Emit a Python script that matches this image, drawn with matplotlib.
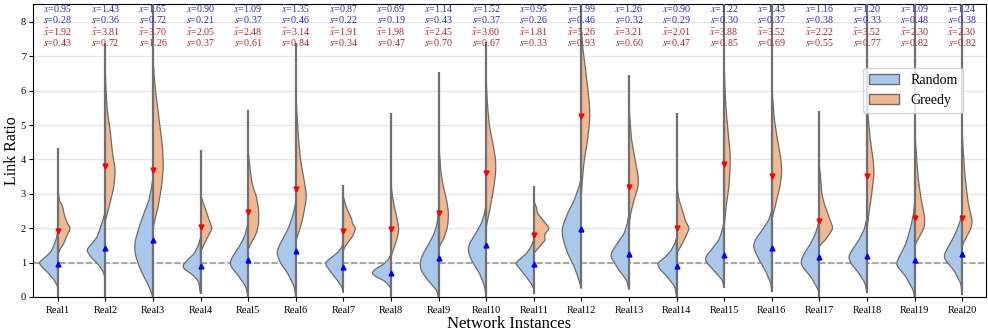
import numpy as np
import matplotlib
matplotlib.use('Agg')
import matplotlib.pyplot as plt
from matplotlib.patches import Patch

plt.rcParams['font.family'] = ['Liberation Serif', 'DejaVu Serif']
plt.rcParams['mathtext.fontset'] = 'stix'

instances = [f'Real{i}' for i in range(1, 21)]

# summary stats printed above each violin
rand_mean = [0.95, 1.43, 1.65, 0.90, 1.09, 1.35, 0.87, 0.69, 1.14, 1.52,
             0.95, 1.99, 1.26, 0.90, 1.22, 1.43, 1.16, 1.20, 1.09, 1.24]
rand_std = [0.28, 0.36, 0.72, 0.21, 0.37, 0.46, 0.22, 0.19, 0.43, 0.37,
            0.26, 0.46, 0.32, 0.29, 0.30, 0.37, 0.38, 0.33, 0.48, 0.38]
greedy_mean = [1.92, 3.81, 3.70, 2.05, 2.48, 3.14, 1.91, 1.98, 2.45, 3.60,
               1.81, 5.26, 3.21, 2.01, 3.88, 3.52, 2.22, 3.52, 2.30, 2.30]
greedy_std = [0.43, 0.72, 1.26, 0.37, 0.61, 0.84, 0.34, 0.47, 0.70, 0.67,
              0.33, 0.93, 0.60, 0.47, 0.85, 0.69, 0.55, 0.77, 0.82, 0.82]

# min / max of the data (grey range line)
range_lo = [0, 0, 0, 0.09, 0, 0, 0.25, 0, 0, 0, 0.1, 0.25, 0.22, 0, 0.27, 0.15, 0, 0.13, 0, 0.06]
range_hi = [4.32, 7.4, 9, 4.27, 5.45, 7.4, 3.26, 5.36, 6.55, 7.42,
            3.23, 9, 6.45, 5.34, 9, 9, 5.42, 9, 9, 9]

# half violin outlines: (link ratio, half width)
rand_shape = [
    [(0.30, 0), (0.50, 0.08), (0.70, 0.20), (0.85, 0.32), (1.00, 0.40), (1.15, 0.27), (1.30, 0.15), (1.50, 0.08), (1.70, 0.03), (1.90, 0)],
    [(0.55, 0), (0.78, 0.06), (0.98, 0.17), (1.17, 0.31), (1.37, 0.40), (1.55, 0.28), (1.75, 0.17), (2.04, 0.10), (2.24, 0.05), (2.50, 0)],
    [(0.0, 0), (0.30, 0.08), (0.59, 0.19), (0.88, 0.29), (1.27, 0.38), (1.60, 0.38), (2.04, 0.29), (2.43, 0.19), (2.82, 0.08), (3.20, 0.03), (3.45, 0)],
    [(0.10, 0), (0.45, 0.04), (0.64, 0.16), (0.83, 0.36), (0.93, 0.37), (1.08, 0.27), (1.27, 0.13), (1.46, 0.06), (1.70, 0)],
    [(0.0, 0), (0.30, 0.05), (0.59, 0.19), (0.88, 0.36), (0.98, 0.385), (1.17, 0.33), (1.46, 0.19), (1.75, 0.08), (2.04, 0.02), (2.25, 0)],
    [(0.0, 0), (0.30, 0.03), (0.69, 0.17), (0.98, 0.32), (1.27, 0.40), (1.46, 0.36), (1.75, 0.25), (2.04, 0.14), (2.43, 0.05), (2.75, 0)],
    [(0.13, 0), (0.30, 0.035), (0.49, 0.13), (0.74, 0.27), (0.93, 0.37), (1.03, 0.36), (1.17, 0.23), (1.32, 0.10), (1.46, 0.03), (1.60, 0)],
    [(0.25, 0), (0.35, 0.05), (0.48, 0.15), (0.60, 0.33), (0.70, 0.40), (0.82, 0.32), (0.95, 0.16), (1.10, 0.05), (1.25, 0)],
    [(0.0, 0), (0.20, 0.04), (0.49, 0.23), (0.78, 0.37), (0.98, 0.39), (1.22, 0.34), (1.56, 0.20), (1.85, 0.09), (2.14, 0.03), (2.50, 0)],
    [(0.0, 0), (0.30, 0.03), (0.69, 0.14), (1.08, 0.315), (1.37, 0.385), (1.56, 0.35), (1.85, 0.22), (2.14, 0.10), (2.43, 0.035), (2.70, 0)],
    [(0.25, 0), (0.40, 0.06), (0.59, 0.16), (0.78, 0.27), (0.98, 0.385), (1.09, 0.30), (1.27, 0.15), (1.46, 0.06), (1.65, 0)],
    [(0.25, 0), (0.49, 0.05), (0.88, 0.15), (1.27, 0.29), (1.75, 0.40), (2.04, 0.40), (2.43, 0.29), (2.82, 0.15), (3.20, 0.05), (3.50, 0)],
    [(0.22, 0), (0.49, 0.05), (0.78, 0.21), (1.17, 0.385), (1.32, 0.36), (1.56, 0.245), (1.85, 0.10), (2.14, 0.035), (2.40, 0)],
    [(0.0, 0), (0.30, 0.035), (0.59, 0.20), (0.83, 0.36), (0.98, 0.41), (1.12, 0.27), (1.32, 0.13), (1.56, 0.035), (1.70, 0)],
    [(0.27, 0), (0.49, 0.04), (0.78, 0.22), (1.03, 0.39), (1.17, 0.39), (1.37, 0.27), (1.66, 0.11), (1.95, 0.04), (2.20, 0)],
    [(0.15, 0), (0.40, 0.02), (0.78, 0.14), (1.17, 0.30), (1.46, 0.39), (1.66, 0.35), (1.95, 0.20), (2.24, 0.06), (2.50, 0)],
    [(0.0, 0), (0.20, 0.02), (0.59, 0.18), (0.88, 0.36), (1.03, 0.39), (1.27, 0.32), (1.56, 0.18), (1.85, 0.08), (2.14, 0.02), (2.30, 0)],
    [(0.13, 0), (0.40, 0.04), (0.69, 0.17), (0.98, 0.34), (1.17, 0.39), (1.37, 0.31), (1.66, 0.17), (1.95, 0.06), (2.30, 0)],
    [(0.0, 0), (0.20, 0.03), (0.59, 0.18), (0.88, 0.36), (0.98, 0.39), (1.17, 0.32), (1.56, 0.18), (2.04, 0.08), (2.43, 0.02), (2.70, 0)],
    [(0.06, 0), (0.40, 0.03), (0.78, 0.175), (1.08, 0.36), (1.22, 0.385), (1.46, 0.29), (1.85, 0.14), (2.24, 0.035), (2.50, 0)],
]
greedy_shape = [
    [(1.20, 0), (1.37, 0.04), (1.56, 0.13), (1.75, 0.18), (2.00, 0.27), (2.15, 0.20), (2.33, 0.15), (2.50, 0.12), (2.65, 0.10), (2.80, 0.03), (3.30, 0)],
    [(2.24, 0), (2.63, 0.08), (3.20, 0.18), (3.69, 0.21), (4.18, 0.15), (4.85, 0.10), (5.43, 0.04), (6.10, 0.01), (6.50, 0)],
    [(2.00, 0), (2.24, 0.04), (2.63, 0.11), (3.20, 0.18), (3.79, 0.22), (4.37, 0.20), (5.15, 0.13), (5.92, 0.06), (6.50, 0.02), (7.00, 0)],
    [(1.30, 0), (1.46, 0.05), (1.66, 0.12), (2.00, 0.245), (2.24, 0.18), (2.53, 0.11), (2.82, 0.035), (3.00, 0)],
    [(1.40, 0), (1.56, 0.06), (1.85, 0.175), (2.14, 0.22), (2.53, 0.22), (2.92, 0.175), (3.20, 0.10), (3.50, 0.06), (3.98, 0.02), (4.30, 0)],
    [(1.66, 0), (1.85, 0.06), (2.24, 0.14), (2.82, 0.22), (3.00, 0.22), (3.40, 0.175), (3.98, 0.10), (4.56, 0.06), (5.24, 0.03), (6.00, 0)],
    [(1.37, 0), (1.56, 0.08), (1.75, 0.19), (2.00, 0.26), (2.14, 0.19), (2.29, 0.17), (2.48, 0.10), (2.67, 0.05), (2.90, 0)],
    [(1.17, 0), (1.37, 0.05), (1.66, 0.12), (1.90, 0.16), (2.04, 0.16), (2.33, 0.12), (2.63, 0.07), (2.92, 0.03), (3.30, 0)],
    [(1.46, 0), (1.66, 0.10), (2.04, 0.19), (2.43, 0.21), (2.82, 0.17), (3.20, 0.10), (3.60, 0.05), (4.18, 0.02), (4.60, 0)],
    [(2.04, 0), (2.43, 0.06), (3.01, 0.14), (3.60, 0.20), (3.98, 0.20), (4.47, 0.14), (4.95, 0.07), (5.53, 0.03), (6.30, 0)],
    [(1.27, 0), (1.46, 0.12), (1.66, 0.245), (1.80, 0.22), (2.00, 0.33), (2.19, 0.22), (2.43, 0.08), (2.63, 0.05), (2.80, 0)],
    [(3.01, 0), (3.40, 0.02), (3.98, 0.06), (4.56, 0.13), (5.15, 0.175), (5.53, 0.175), (6.11, 0.13), (6.70, 0.08), (7.18, 0.035), (7.70, 0)],
    [(2.04, 0), (2.43, 0.035), (2.82, 0.105), (3.21, 0.195), (3.50, 0.195), (3.98, 0.13), (4.56, 0.055), (5.15, 0.02), (5.70, 0)],
    [(1.27, 0), (1.46, 0.085), (1.75, 0.19), (2.00, 0.27), (2.19, 0.19), (2.53, 0.12), (2.82, 0.05), (3.10, 0.02), (3.30, 0)],
    [(2.04, 0), (2.63, 0.04), (3.20, 0.10), (3.79, 0.125), (4.18, 0.125), (4.76, 0.085), (5.44, 0.04), (6.10, 0.015), (6.80, 0)],
    [(2.24, 0), (2.63, 0.07), (3.20, 0.17), (3.60, 0.21), (3.98, 0.195), (4.56, 0.12), (5.15, 0.055), (5.73, 0.02), (6.30, 0)],
    [(1.50, 0), (1.66, 0.13), (2.00, 0.29), (2.33, 0.20), (2.72, 0.10), (3.01, 0.05), (3.40, 0.03), (3.80, 0)],
    [(1.95, 0), (2.43, 0.04), (3.01, 0.10), (3.60, 0.15), (3.98, 0.13), (4.56, 0.07), (5.15, 0.03), (5.80, 0)],
    [(1.50, 0), (1.70, 0.08), (2.00, 0.20), (2.25, 0.22), (2.60, 0.17), (3.00, 0.12), (3.40, 0.08), (3.90, 0.05), (4.50, 0.02), (5.20, 0)],
    [(1.50, 0), (1.66, 0.06), (2.04, 0.20), (2.24, 0.21), (2.63, 0.14), (3.01, 0.10), (3.50, 0.06), (4.09, 0.03), (4.80, 0)],
]

blue = '#a9c8eb'
orange = '#f1b992'
edge = '#6b6b6b'


# smooth the knot outline a little so it looks like a kde curve
def outline(pts):
    y, w = np.array(pts).T
    yy = np.linspace(y[0], y[-1], 200)
    ww = np.interp(yy, y, w)
    k = np.hanning(25)
    k /= k.sum()
    ww = np.convolve(np.pad(ww, 12, mode='edge'), k, mode='valid')
    return yy, ww


fig, ax = plt.subplots(figsize=(9.88, 3.33), dpi=100)
fig.subplots_adjust(left=33 / 988, right=986 / 988, bottom=1 - 297 / 333, top=1 - 4 / 333)

for i in range(len(instances)):
    yy, ww = outline(rand_shape[i])
    ax.fill(np.r_[i - ww, i], np.r_[yy, yy[0]], facecolor=blue, edgecolor=edge, lw=0.9, zorder=2)
    yy, ww = outline(greedy_shape[i])
    ax.fill(np.r_[i + ww, i], np.r_[yy, yy[0]], facecolor=orange, edgecolor=edge, lw=0.9, zorder=2)
    ax.vlines(i, range_lo[i], range_hi[i], color='#707070', lw=1.6, zorder=3)
    ax.plot(i, rand_mean[i], marker='^', color='blue', ms=3.5, zorder=4)
    ax.plot(i, greedy_mean[i], marker='v', color='red', ms=3.5, zorder=4)

    ax.text(i, 8.38, r'$\bar{x}$=%.2f' % rand_mean[i], color='#2a2ab4', fontsize=7.2, ha='center', va='center')
    ax.text(i, 8.08, r'$s$=%.2f' % rand_std[i], color='#2a2ab4', fontsize=7.2, ha='center', va='center')
    ax.text(i, 7.71, r'$\bar{x}$=%.2f' % greedy_mean[i], color='#b22222', fontsize=7.2, ha='center', va='center')
    ax.text(i, 7.41, r'$s$=%.2f' % greedy_std[i], color='#b22222', fontsize=7.2, ha='center', va='center')

ax.axhline(1, color='#9a9a9a', ls='--', lw=1.2, zorder=1)

ax.set_xlim(-0.52, 19.5)
ax.set_ylim(0, 8.52)
ax.set_xticks(range(len(instances)))
ax.set_xticklabels(instances, fontsize=7.5)
ax.set_yticks(range(0, 9))
ax.tick_params(axis='y', labelsize=7.5, length=3, pad=2)
ax.tick_params(axis='x', length=3)
ax.yaxis.grid(True, color='#e6e6e6', lw=1)
ax.set_axisbelow(True)
ax.set_xlabel('Network Instances', fontsize=12, labelpad=1)
ax.set_ylabel('Link Ratio', fontsize=11.5)
ax.yaxis.set_label_coords(-0.014, 0.5)

handles = [Patch(facecolor=blue, edgecolor=edge, label='Random'),
           Patch(facecolor=orange, edgecolor=edge, label='Greedy')]
ax.legend(handles=handles, loc='upper right', bbox_to_anchor=(0.976, 0.78),
          fontsize=10, borderaxespad=0, handlelength=2.2)

fig.savefig('out.png', dpi=100)
